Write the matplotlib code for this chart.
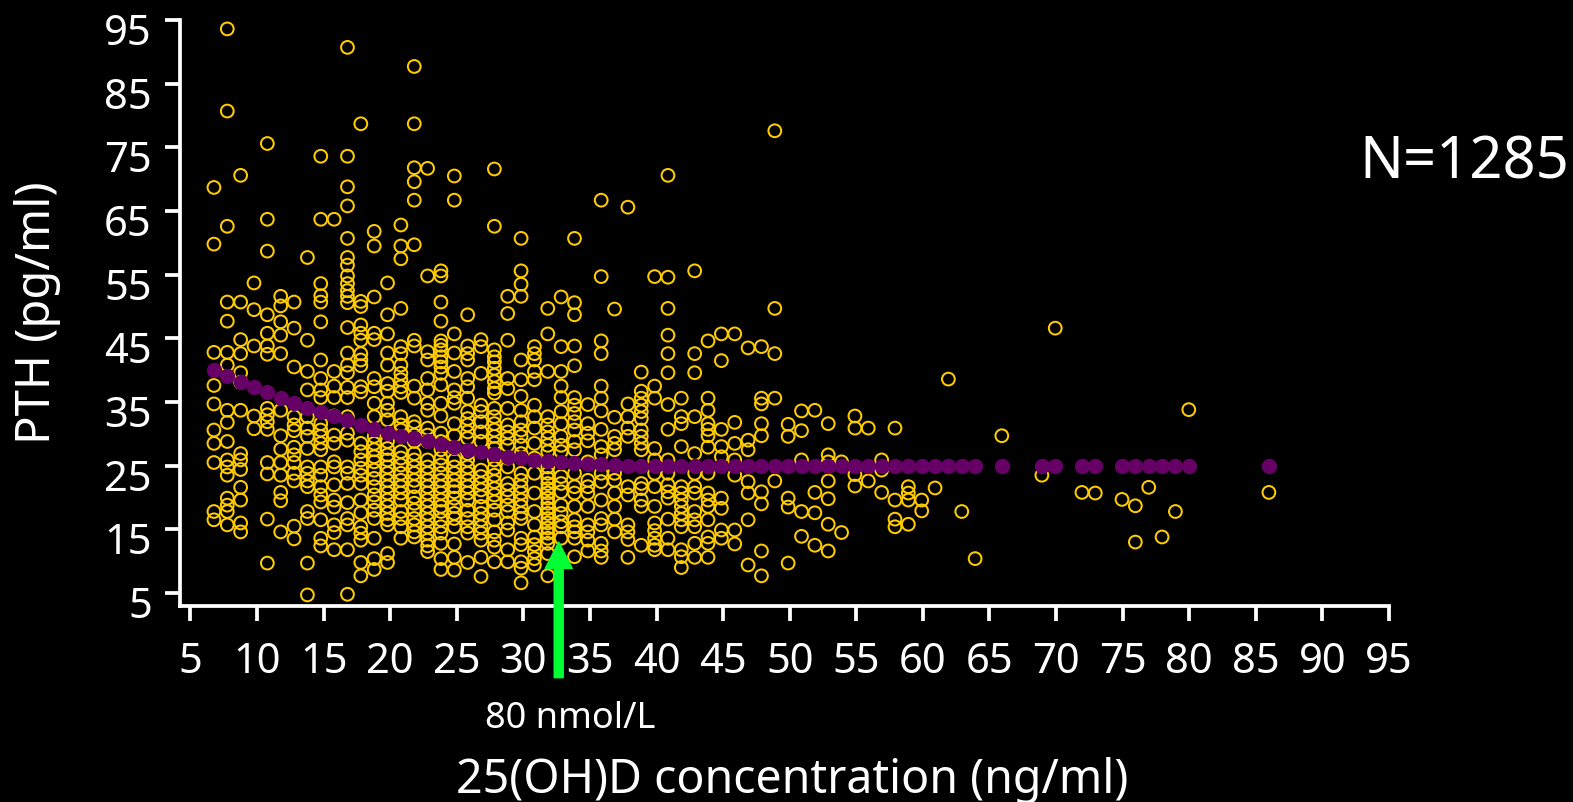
import matplotlib
matplotlib.use("Agg")
import matplotlib.pyplot as plt
from matplotlib.transforms import ScaledTranslation

# PTH readings (pg/ml) for each integer 25(OH)D column (ng/ml)
pth_07 = [68.7, 59.8, 42.8, 37.6, 34.7, 30.6, 28.5, 25.5, 17.8, 16.5]
pth_08 = [93.6, 80.7, 62.6, 50.7, 47.7, 42.8, 40.8, 33.7, 31.8, 28.8, 25.9, 24.8, 23.5, 19.9, 18.8, 17.8, 15.7]
pth_09 = [70.6, 50.7, 44.8, 42.6, 39.6, 38.1, 33.7, 26.9, 25.9, 24.4, 21.6, 19.6, 16, 14.6]
pth_10 = [53.7, 49.5, 43.8, 32.8, 30.8]
pth_11 = [75.6, 63.7, 58.7, 48.7, 45.8, 43.8, 42.5, 34, 33, 31.9, 30.7, 25.5, 23.7, 16.6, 9.7]
pth_12 = [51.6, 50.1, 47.6, 45.5, 42.6, 33.7, 29.7, 27.6, 25.5, 23.5, 20.8, 19.5, 14.6]
pth_13 = [50.7, 46.6, 40.5, 32.7, 31.4, 30.5, 27.9, 26.7, 25.5, 23.8, 22.6, 15.5, 13.5]
pth_14 = [57.7, 44.7, 39.8, 36.9, 32.7, 30.9, 29.6, 27.7, 24.8, 23.8, 22.6, 21.7, 17.8, 16.7, 9.7, 4.7]
pth_15 = [73.6, 63.7, 53.6, 51.7, 50.7, 47.6, 41.6, 38.7, 36.9, 35.7, 31.6, 30.6, 29.6, 28.5, 27.5, 24.8, 23.5, 21.7, 20.4, 19.3, 16.5, 13.6, 12.4]
pth_16 = [63.7, 39.8, 37.5, 35.7, 32.8, 29.8, 28.5, 25.6, 24.8, 22, 19.6, 18.5, 15.7, 14.5, 11.8]
pth_17 = [90.7, 73.6, 68.8, 65.8, 60.7, 57.7, 56.5, 54.8, 53.6, 52.5, 51.6, 50.6, 46.7, 42.7, 40.8, 39.6, 37.3, 35.7, 32.7, 30.1, 29, 24.8, 23.8, 22.2, 19.2, 16.7, 15.7, 11.8, 4.8]
pth_18 = [78.7, 50.8, 50, 47.1, 45.8, 44.7, 42.6, 41.6, 40.7, 37.4, 36.6, 28.5, 27.2, 25.9, 24.6, 23.5, 22.2, 19.6, 17.6, 15.4, 14.4, 13.3, 9.8, 7.7]
pth_19 = [61.8, 59.5, 51.5, 45.8, 44.8, 38.7, 37.4, 34.8, 32.7, 29.6, 28.5, 27.5, 26.4, 25.6, 24.3, 23, 21.7, 20.4, 19.3, 18, 16.7, 13.6, 10.4, 8.7]
pth_20 = [53.7, 48.7, 45.7, 42.7, 40.8, 37.9, 36.7, 34.8, 33.7, 32.2, 28.8, 27.7, 26.7, 25.9, 24.8, 23.8, 22.7, 21.7, 20.7, 19.6, 18.6, 17.5, 16.5, 15.7, 11.2, 9.8]
pth_21 = [62.8, 59.5, 57.5, 49.7, 43.7, 42.6, 40.8, 39.5, 38.5, 37.4, 36.5, 32.7, 31.4, 30.6, 27.2, 26.2, 25.1, 23.8, 22.7, 21.7, 20.7, 19.6, 17.8, 16.7, 15.4, 13.6]
pth_22 = [87.7, 78.7, 71.8, 69.6, 66.7, 59.7, 44.7, 43.8, 37.5, 35.6, 31.9, 31.1, 29.8, 28.8, 26.9, 25.9, 24.8, 23.8, 22.7, 21.7, 20.1, 19.1, 18, 16.7, 15.7, 14.6, 13.8]
pth_23 = [71.7, 54.8, 42.9, 41.6, 38.7, 36.9, 34.8, 33.7, 30.9, 29.8, 28.8, 25.9, 24.8, 23.8, 22.7, 21.7, 20.7, 19.6, 18.6, 17.5, 16.5, 15.4, 14.4, 13.3, 12.4, 11.5]
pth_24 = [55.6, 54.8, 50.7, 47.7, 44.6, 43.9, 43.2, 42.1, 41.3, 40.5, 39.5, 37.7, 34.8, 32.8, 30.1, 28.8, 27.5, 26.2, 25.1, 23.8, 22.7, 21.7, 20.7, 19.6, 18.6, 17.8, 16.5, 15.4, 14.4, 12.8, 10.4, 8.7]
pth_25 = [70.5, 66.7, 45.7, 42.7, 39.8, 36.9, 35.7, 34.8, 31.6, 29.7, 27.7, 25.9, 24.8, 23.8, 22.7, 21.7, 20.9, 19.9, 18.6, 17.5, 16.7, 15.4, 12.7, 10.6, 8.6]
pth_26 = [48.7, 43.8, 42.6, 41.6, 38.7, 37.4, 35.6, 33.5, 32.4, 31.4, 30.3, 29.3, 26.9, 25.9, 24.8, 23.8, 22.7, 21.7, 20.7, 19.6, 18, 16.7, 15.4, 14.4, 9.8]
pth_27 = [44.8, 43.7, 39.5, 34.5, 33.5, 31.9, 30.3, 28.8, 24.3, 23.3, 22.2, 21.2, 20.1, 18.6, 17.5, 16.5, 15.4, 14.4, 13.3, 10.6, 7.6]
pth_28 = [71.6, 62.6, 43.2, 42.1, 41.3, 40.3, 39.2, 38.2, 37.1, 36.4, 34, 32.7, 31.6, 30.6, 29.6, 28.5, 27.7, 25.9, 24.6, 23.5, 22.5, 21.4, 20.4, 19.3, 18, 16.5, 14.6, 13.3, 12.2, 9.9]
pth_29 = [51.6, 48.9, 44.7, 38.7, 37.1, 34, 31.4, 30.3, 29.3, 28.2, 26.2, 24.8, 22.2, 21.2, 20.1, 18.8, 17.8, 16, 14.9, 11.8, 9.9]
pth_30 = [60.7, 55.6, 53.5, 51.6, 41.6, 38.5, 35.9, 33.7, 31.9, 30.6, 29.6, 28.2, 26.9, 23.8, 22.7, 21.7, 20.7, 19.6, 18.6, 17.5, 16.7, 13.6, 12.6, 9.9, 8.9, 6.6]
pth_31 = [43.7, 42.6, 41.6, 39.8, 38.5, 34.5, 32.7, 30.9, 28.5, 26.2, 23.8, 20.7, 17.8, 15.7, 13.8, 12.6, 11.5, 10.4, 9.4]
pth_32 = [49.7, 45.7, 39.8, 32.7, 31.4, 30.3, 29.3, 28.2, 27.2, 24.8, 23.8, 23, 22.2, 21.4, 20.7, 19.9, 19.1, 18.3, 17.5, 16.7, 16, 15.2, 14.4, 13.6, 12.8, 11.2, 7.7]
pth_33 = [51.5, 43.7, 39.8, 37.5, 35.7, 33.5, 31.6, 29.6, 28.2, 27.2, 23.3, 22.2, 20.9, 18.8, 17.5, 16.2, 15.4, 13.6]
pth_34 = [60.7, 50.6, 48.7, 43.8, 40.7, 35.7, 34.5, 33.2, 31.9, 30.6, 28.8, 27.5, 23.8, 21.7, 20.7, 18.6, 16.5, 15.4, 14.6, 13.6, 10.7]
pth_35 = [34.6, 31.6, 30.1, 28.9, 25.6, 22.7, 21.7, 20.7, 18.6, 15.7, 14.6, 13.3, 11.6]
pth_36 = [66.7, 54.7, 44.6, 42.6, 37.5, 35.6, 33.6, 30.7, 28, 26.7, 23.8, 22.5, 19.6, 16.7, 15.7, 12.8, 11.6, 10.6]
pth_37 = [49.6, 32.6, 29.6, 28.5, 27.5, 23.8, 22.7, 20.7, 18.6, 16.6, 14.6]
pth_38 = [65.6, 34.7, 32.7, 30.9, 29.6, 21.7, 20.4, 15.7, 14.6, 13.4, 10.6]
pth_39 = [39.7, 36.7, 35.6, 34.5, 33.5, 32.4, 30.6, 29.6, 28.5, 27.5, 22.2, 21.4, 19.6, 18.6, 12.5]
pth_40 = [54.7, 37.5, 35.6, 27.7, 25.9, 23.8, 21.7, 18.6, 16, 14.8, 13.6, 12.5, 11.8]
pth_41 = [70.6, 54.6, 49.7, 45.5, 42.6, 39.6, 34.6, 30.7, 25.9, 23.8, 22, 20.9, 19.9, 16.6, 13.6, 11.8]
pth_42 = [35.6, 32.7, 31.6, 28, 21.7, 20.7, 19.6, 18.6, 17.5, 16.5, 15.4, 11.8, 10.7, 9]
pth_43 = [55.6, 42.6, 39.6, 32.7, 26.9, 23.8, 21.7, 20.7, 17.8, 16.5, 15.4, 12.8, 10.6]
pth_44 = [44.6, 35.6, 33.7, 31.6, 30.7, 29.7, 27.9, 23.8, 20.7, 19.6, 18.6, 16.5, 13.8, 12.8, 10.6]
pth_45 = [45.7, 41.5, 30.7, 28, 26.4, 19.9, 18.3, 14.9, 13.6]
pth_46 = [45.7, 31.8, 28.5, 25.9, 23.5, 14.9, 12.7]
pth_47 = [43.5, 29, 27.5, 22.5, 20.7, 16.5, 9.4]
pth_48 = [43.7, 35.6, 34.7, 31.6, 29.7, 20.9, 19, 11.6, 7.7]
pth_49 = [77.6, 49.7, 42.6, 35.6, 22.6]
pth_50 = [31.5, 29.6, 19.9, 18.5, 9.7]
pth_51 = [33.6, 30.5, 25.9, 17.8, 13.9]
pth_52 = [33.7, 20.8, 17.6, 12.5]
pth_53 = [31.6, 26.7, 25.6, 22.6, 19.8, 15.8, 11.6]
pth_54 = [25.6, 14.5]
pth_55 = [32.8, 30.9, 23.6, 21.8]
pth_56 = [30.9, 22.6]
pth_57 = [25.9, 24.3, 20.8]
pth_58 = [30.9, 19.6, 16.6, 15.4]
pth_59 = [21.7, 20.7, 19.6, 15.8]
pth_60 = [19.6, 17.9]
pth_61 = [21.5]
pth_62 = [38.6]
pth_63 = [17.8]
pth_64 = [10.4]
pth_66 = [29.7]
pth_69 = [23.5]
pth_70 = [46.6]
pth_72 = [20.8]
pth_73 = [20.7]
pth_75 = [19.7]
pth_76 = [18.7, 13]
pth_77 = [21.6]
pth_78 = [13.8]
pth_79 = [17.8]
pth_80 = [33.8]
pth_86 = [20.8]

column_values = [
    (7, pth_07), (8, pth_08), (9, pth_09), (10, pth_10), (11, pth_11), (12, pth_12),
    (13, pth_13), (14, pth_14), (15, pth_15), (16, pth_16), (17, pth_17), (18, pth_18),
    (19, pth_19), (20, pth_20), (21, pth_21), (22, pth_22), (23, pth_23), (24, pth_24),
    (25, pth_25), (26, pth_26), (27, pth_27), (28, pth_28), (29, pth_29), (30, pth_30),
    (31, pth_31), (32, pth_32), (33, pth_33), (34, pth_34), (35, pth_35), (36, pth_36),
    (37, pth_37), (38, pth_38), (39, pth_39), (40, pth_40), (41, pth_41), (42, pth_42),
    (43, pth_43), (44, pth_44), (45, pth_45), (46, pth_46), (47, pth_47), (48, pth_48),
    (49, pth_49), (50, pth_50), (51, pth_51), (52, pth_52), (53, pth_53), (54, pth_54),
    (55, pth_55), (56, pth_56), (57, pth_57), (58, pth_58), (59, pth_59), (60, pth_60),
    (61, pth_61), (62, pth_62), (63, pth_63), (64, pth_64), (66, pth_66), (69, pth_69),
    (70, pth_70), (72, pth_72), (73, pth_73), (75, pth_75), (76, pth_76), (77, pth_77),
    (78, pth_78), (79, pth_79), (80, pth_80), (86, pth_86),
]

# Fitted curve
fit_x = list(range(7, 65)) + [66, 69, 70, 72, 73, 75, 76, 77, 78, 79, 80, 86]
fit_y = [40, 39.1, 38.1, 37.3, 36.5, 35.7, 34.9, 34, 33.4, 32.8, 32.1, 31.4, 30.8, 30.2, 29.7,
         29.3, 28.8, 28.4, 27.9, 27.5, 27.1, 26.8, 26.4, 26.2, 25.9, 25.7, 25.5, 25.4, 25.2, 25.2,
         25.05] + [25] * 27 + [25] * 12

x_ticks = list(range(5, 100, 5))
y_ticks = list(range(5, 100, 10))


def col_x(col):
    # the printed columns sit slightly left of the tick marks and run a little wider
    return 6.76 + (col - 7) * 1.0028


W, H = 1573, 802
fig = plt.figure(figsize=(W / 100, H / 100), dpi=100, facecolor="black")
L, R, T, B = 179.5, 1389, 20, 606
ax = fig.add_axes([L / W, 1 - B / H, (R - L) / W, (B - T) / H], facecolor="black")
ax.set_xlim(5 + (L - 190.5) / 13.32, 95)
ax.set_ylim(5 - (B - 593) / 6.37, 95)

xs, ys = [], []
for col, vals in column_values:
    xs += [col_x(col)] * len(vals)
    ys += vals
ax.scatter(xs, ys, s=84, facecolors="none", edgecolors="#FFCC00", linewidths=1.45, zorder=2, clip_on=False)
ax.scatter([col_x(v) for v in fit_x], fit_y, s=122, color="#660066", linewidths=0, zorder=3, clip_on=False)

ax.annotate("", xy=(32.65, 13), xytext=(32.65, -8.3), annotation_clip=False,
            arrowprops=dict(width=6.5, headwidth=19.5, headlength=19, color="#00FF33", shrink=0), zorder=4)

for side in ("top", "right"):
    ax.spines[side].set_visible(False)
for side in ("left", "bottom"):
    ax.spines[side].set_color("white")
    ax.spines[side].set_linewidth(2.7)
    ax.spines[side].set_capstyle("projecting")

FONT = "Noto Sans"
ax.set_xticks(x_ticks)
ax.set_yticks(y_ticks)
ax.tick_params(colors="white", width=2.7, length=11, labelsize=30)
ax.tick_params(axis="x", pad=14)
ax.tick_params(axis="y", pad=9)
for lab in ax.get_xticklabels():
    lab.set_fontfamily(FONT)
down = ScaledTranslation(0, -9 / 100, fig.dpi_scale_trans)
for lab in ax.get_yticklabels():
    lab.set_fontfamily(FONT)
    lab.set_transform(lab.get_transform() + down)

fig.text(38 / W, 1 - 313 / H, "PTH (pg/ml)", rotation=90, color="white", fontsize=34, family=FONT, ha="center", va="center")
fig.text(792 / W, 1 - 781 / H, "25(OH)D concentration (ng/ml)", color="white", fontsize=33.5, family=FONT, ha="center", va="center")
fig.text(570 / W, 1 - 719 / H, "80 nmol/L", color="white", fontsize=26, family=FONT, ha="center", va="center")
fig.text(1464.5 / W, 1 - 163 / H, "N=1285", color="white", fontsize=41.7, family=FONT, ha="center", va="center")

fig.savefig("out.png", dpi=100, facecolor="black")
